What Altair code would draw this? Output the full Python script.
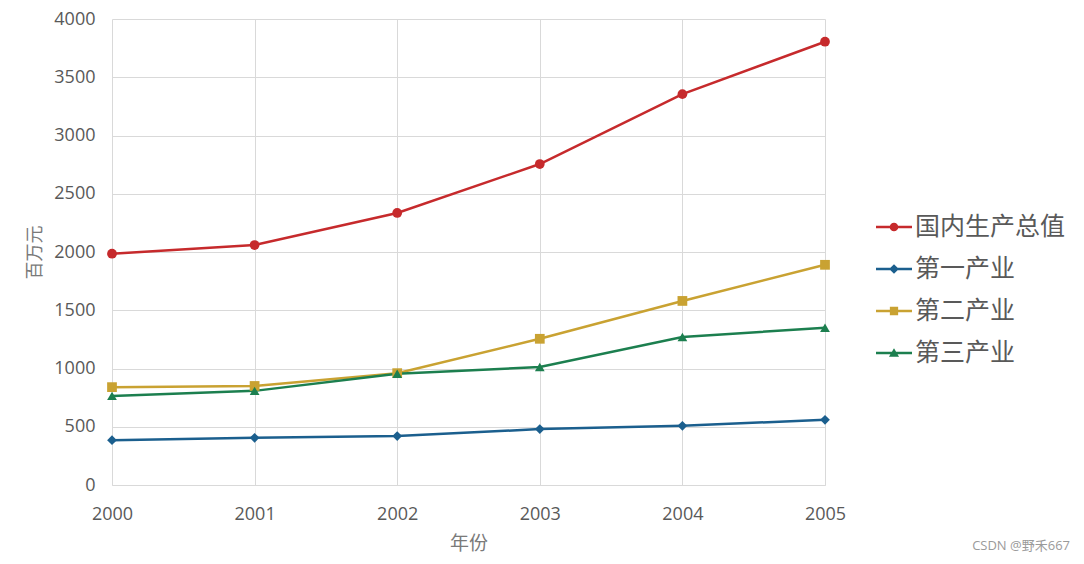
import altair as alt
import pandas as pd

years = [2000, 2001, 2002, 2003, 2004, 2005]
series_names = ["国内生产总值", "第一产业", "第二产业", "第三产业"]
gdp = [1985, 2060, 2335, 2755, 3355, 3805]
primary = [385, 405, 420, 480, 508, 560]
secondary = [840, 850, 960, 1255, 1580, 1890]
tertiary = [765, 808, 955, 1013, 1270, 1350]
colors = ["#c62a2c", "#1b5f8e", "#c9a232", "#1c7f4f"]
marker_shapes = ["circle", "diamond", "square", "triangle-up"]
watermark = ["CSDN @野禾667"]

# legend symbols: a short line plus the marker (custom SVG paths)
bar = "M-1,-0.07H1V0.07H-1Z"
legend_shapes = [
    bar + "M-0.24,0A0.24,0.24 0 1,1 0.24,0A0.24,0.24 0 1,1 -0.24,0Z",
    bar + "M0,-0.27L0.27,0L0,0.27L-0.27,0Z",
    bar + "M-0.23,-0.23H0.23V0.23H-0.23Z",
    bar + "M0,-0.27L0.28,0.21H-0.28Z",
]

rows = []
for name, vals in zip(series_names, [gdp, primary, secondary, tertiary]):
    for y, v in zip(years, vals):
        rows.append({"year": y, "value": v, "series": name})
df = pd.DataFrame(rows)

FONT = "Open Sans, Noto Sans CJK SC"
GRID = "#d9d9d9"

x_enc = alt.X(
    "year:Q",
    scale=alt.Scale(domain=[2000, 2005], nice=False, zero=False),
    axis=alt.Axis(
        values=years, format="d", title="年份", grid=True, ticks=False,
        domainColor=GRID, gridColor=GRID, labelFlush=False,
        labelFontSize=18, labelColor="#595959", labelPadding=20, labelFont=FONT,
        titleFontSize=19, titleColor="#7a7a7a", titleFont=FONT, titleFontWeight="normal",
        titlePadding=11,
    ),
)
y_enc = alt.Y(
    "value:Q",
    scale=alt.Scale(domain=[0, 4000], nice=False),
    axis=alt.Axis(
        values=list(range(0, 4001, 500)), format="d", title="百万元", grid=True, ticks=False,
        domain=False, gridColor=GRID,
        labelFontSize=18, labelColor="#595959", labelPadding=17, labelFont=FONT,
        titleFontSize=18, titleColor="#7a7a7a", titleFont=FONT, titleFontWeight="normal",
        titlePadding=9,
    ),
)

color_scale = alt.Scale(domain=series_names, range=colors)

lines = alt.Chart(df).mark_line(strokeWidth=2.5).encode(
    x=x_enc, y=y_enc,
    color=alt.Color("series:N", scale=color_scale, legend=None),
    detail="series:N",
)

points = alt.Chart(df).mark_point(filled=True, opacity=1, size=95).encode(
    x=x_enc, y=y_enc,
    color=alt.Color("series:N", scale=color_scale, legend=None),
    shape=alt.Shape("series:N", scale=alt.Scale(domain=series_names, range=marker_shapes), legend=None),
)

legend_layer = alt.Chart(df).transform_filter("false").mark_point(filled=True, opacity=1).encode(
    x=x_enc, y=y_enc,
    color=alt.Color("series:N", scale=color_scale, legend=alt.Legend(title=None)),
    shape=alt.Shape("series:N", scale=alt.Scale(domain=series_names, range=legend_shapes),
                    legend=alt.Legend(title=None)),
)

wm = alt.Chart(pd.DataFrame({"t": watermark})).mark_text(
    align="right", baseline="middle", fontSize=13, color="#9a9a9a", font=FONT
).encode(text="t:N", x=alt.value(958), y=alt.value(527))

chart = alt.layer(lines, points, legend_layer, wm).resolve_scale(
    color="independent", shape="independent"
).properties(
    width=713, height=466,
    autosize=alt.AutoSizeParams(type="none"),
    padding={"left": 104, "top": 11, "right": 251, "bottom": 70},
    background="white",
).configure_view(strokeWidth=0).configure_legend(
    orient="none", legendX=764, legendY=190,
    symbolSize=1296, symbolStrokeWidth=0, labelOffset=3, rowPadding=11,
    labelFontSize=25, labelColor="#595959", labelFont=FONT, labelLimit=400,
)

chart.save("out.html", embed_options={"renderer": "svg", "actions": False})
